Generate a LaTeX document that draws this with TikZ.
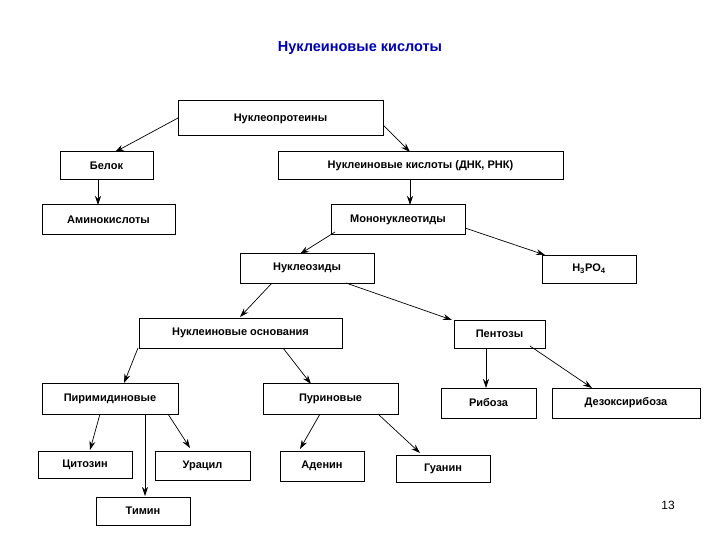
\documentclass[tikz,border=0pt]{standalone}
\usepackage{fontspec}
\setmainfont{Liberation Sans}
\usetikzlibrary{arrows.meta}
\begin{document}
\begin{tikzpicture}[x=1pt,y=-1pt,
  bx/.style={draw=black,line width=1pt,fill=white,font=\bfseries\fontsize{11}{13}\selectfont},
  ar/.style={-{Stealth[length=9pt,width=6pt]},line width=0.7pt}]
\useasboundingbox (0,0) rectangle (720,540);
\node[font=\bfseries\fontsize{14.5}{17}\selectfont,text=blue!70!black] (title) at (360,48) {Нуклеиновые кислоты};
\newcommand{\bxx}[6]{\draw[bx] (#2,#3) rectangle (#4,#5) node[midway] (#1) {#6};}
\bxx{np}{178}{101}{383}{136}{Нуклеопротеины}
\bxx{bel}{60}{152}{153}{180}{Белок}
\bxx{dnk}{278}{152}{563}{180}{Нуклеиновые кислоты (ДНК, РНК)}
\bxx{ami}{42}{205}{175}{234}{Аминокислоты}
\bxx{mono}{331}{205}{465}{234}{Мононуклеотиды}
\bxx{nz}{240}{253}{374}{283}{Нуклеозиды}
\bxx{h}{542}{255}{636}{283}{H\textsubscript{3}PO\textsubscript{4}}
\bxx{osn}{139}{318}{342}{348}{Нуклеиновые основания}
\bxx{pen}{454}{320}{545}{348}{Пентозы}
\bxx{pir}{42}{383}{178}{414}{Пиримидиновые}
\bxx{pur}{263}{383}{398}{414}{Пуриновые}
\bxx{rib}{441}{388}{536}{418}{Рибоза}
\bxx{dez}{552}{388}{700}{418}{Дезоксирибоза}
\bxx{cit}{38}{451}{132}{478}{Цитозин}
\bxx{ura}{155}{451}{250}{480}{Урацил}
\bxx{ade}{280}{451}{364}{481}{Аденин}
\bxx{gua}{396}{455}{490}{482}{Гуанин}
\bxx{tim}{96}{497}{190}{525}{Тимин}
\node[font=\fontsize{12}{14}\selectfont] (pg) at (668,505) {13};
\coordinate (a1) at (178,118); \coordinate (b1) at (115,152);
\draw[ar] (a1) -- (b1);
\coordinate (a2) at (383,125); \coordinate (b2) at (410,152);
\draw[ar] (a2) -- (b2);
\coordinate (a3) at (98,180); \coordinate (b3) at (98,205);
\draw[ar] (a3) -- (b3);
\coordinate (a4) at (410,180); \coordinate (b4) at (410,205);
\draw[ar] (a4) -- (b4);
\coordinate (a5) at (335,232); \coordinate (b5) at (300,254);
\draw[ar] (a5) -- (b5);
\coordinate (a6) at (465,228); \coordinate (b6) at (545,255);
\draw[ar] (a6) -- (b6);
\coordinate (a7) at (272,283); \coordinate (b7) at (240,317);
\draw[ar] (a7) -- (b7);
\coordinate (a8) at (346,283); \coordinate (b8) at (452,320);
\draw[ar] (a8) -- (b8);
\coordinate (a9) at (138,348); \coordinate (b9) at (124,383);
\draw[ar] (a9) -- (b9);
\coordinate (a10) at (283,348); \coordinate (b10) at (311,384);
\draw[ar] (a10) -- (b10);
\coordinate (a11) at (486,348); \coordinate (b11) at (486,388);
\draw[ar] (a11) -- (b11);
\coordinate (a12) at (530,346); \coordinate (b12) at (592,388);
\draw[ar] (a12) -- (b12);
\coordinate (a13) at (100,414); \coordinate (b13) at (90,450);
\draw[ar] (a13) -- (b13);
\coordinate (a14) at (145,414); \coordinate (b14) at (145,496);
\draw[ar] (a14) -- (b14);
\coordinate (a15) at (168,414); \coordinate (b15) at (190,448);
\draw[ar] (a15) -- (b15);
\coordinate (a16) at (320,414); \coordinate (b16) at (300,449);
\draw[ar] (a16) -- (b16);
\coordinate (a17) at (378,414); \coordinate (b17) at (420,453);
\draw[ar] (a17) -- (b17);
\end{tikzpicture}
\end{document}
